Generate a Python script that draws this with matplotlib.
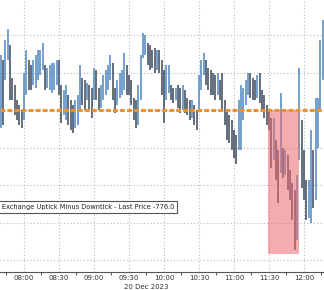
import matplotlib
matplotlib.use("Agg")
import matplotlib.pyplot as plt
from matplotlib.patches import Rectangle

# ---- data (NYSE TICK style high/low bars, 2-minute bars from 07:40) ----
start_minute = 7 * 60 + 40
bar_minutes = 2
highs = [440, 400, 560, 650, 520, 260, 200, 80, 40, 0,
         300, 480, 400, 360, 400, 440, 480, 480, 540, 360,
         340, 360, 380, 380, 400, 400, 200, 160, 200, 120,
         80, 40, 80, 120, 360, 260, 240, 220, 200, 180,
         340, 320, 180, 200, 280, 320, 360, 440, 380, 180,
         240, 300, 320, 460, 360, 280, 240, 100, 80, 200,
         440, 620, 600, 540, 520, 480, 500, 480, 480, 400,
         320, 360, 360, 200, 180, 180, 200, 180, 200, 160,
         100, 80, 80, 40, 0, 280, 400, 460, 400, 340,
         320, 300, 280, 300, 240, 300, 80, 0, -40, -80,
         -160, -200, 80, 200, 180, 240, 300, 300, 260, 240,
         280, 300, 160, 120, 40, 0, -60, -60, -240, -320,
         140, -300, -320, -360, -480, -580, -640, -520, 340, -80,
         -320, -560, -560, -160, -320, 100, 100, 560, 720]
lows = [-140, -120, 240, 400, 80, 80, -40, -80, -120, -140,
        -80, 120, 160, 160, 200, 180, 240, 280, 320, 160,
        180, 160, 140, 160, 200, 120, -100, -40, -80, -120,
        -160, -180, -140, -120, 0, 40, 0, 80, 0, -60,
        80, 80, 0, 20, 80, 120, 160, 240, 80, -20,
        40, 100, 120, 160, 120, 120, 40, -80, -140, -120,
        80, 420, 440, 360, 320, 340, 300, 320, 300, 120,
        -100, 80, 140, 80, 60, 80, 20, -20, 0, -20,
        -40, -80, -60, -120, -160, 0, 160, 280, 200, 160,
        120, 120, 80, 120, 80, 0, -120, -240, -260, -320,
        -380, -430, -320, -320, -80, 40, 120, 100, 80, 80,
        100, 60, 0, -60, -120, -160, -460, -400, -560, -740,
        -500, -540, -520, -640, -720, -880, -1120, -1040, -400, -620,
        -720, -880, -860, -900, -780, -720, -300, 0, 240]

reference_level = 0
shade_start, shade_end = "11:29", "11:56"
shade_low, shade_high = -1150, 0
tick_labels = ["08:00", "08:30", "09:00", "09:30", "10:00",
               "10:30", "11:00", "11:30", "12:00"]
date_label = "20 Dec 2023"
legend_text = "NYSE Stock Exchange Uptick Minus Downtick - Last Price -776.0"
grid_values = [600, 300, 0, -300, -600, -900, -1200]


def to_min(s):
    h, m = s.split(":")
    return int(h) * 60 + int(m)


W, H = 324, 290
fig = plt.figure(figsize=(W / 100, H / 100), dpi=100)
ax_bottom_px = 272
ax = fig.add_axes([0, (H - ax_bottom_px) / H, 1, ax_bottom_px / H])

times = [start_minute + bar_minutes * i for i in range(len(highs))]
blue, dark = "#4f86c0", "#3a4658"
prev_mid = None
for t, hi, lo in zip(times, highs, lows):
    mid = (hi + lo) / 2
    col = blue if (prev_mid is None or mid >= prev_mid) else dark
    ax.vlines(t, lo, hi, color=col, lw=1.1, zorder=3)
    prev_mid = mid

# shaded region
s0, s1 = to_min(shade_start), to_min(shade_end)
ax.add_patch(Rectangle((s0, shade_low), s1 - s0, shade_high - shade_low,
                       facecolor="#ec6a6e", alpha=0.55, edgecolor="none", zorder=4))

# reference dashed line
ax.axhline(reference_level, color="#f0922b", lw=2.2, dashes=(1.6, 0.7), zorder=5)

# grid
tick_pos = [to_min(s) for s in tick_labels]
for v in grid_values:
    ax.axhline(v, color="#b8b8b8", lw=0.8, ls=(0, (1, 2)), zorder=1)
for p in tick_pos:
    ax.axvline(p, color="#b8b8b8", lw=0.8, ls=(0, (1, 2)), zorder=1)

x0 = 480 + (0 - 24) / (35 / 30)
x1 = 480 + (W - 24) / (35 / 30)
ax.set_xlim(x0, x1)
ax.set_ylim(880 - 8 * ax_bottom_px, 880)

font_fam = ["Liberation Sans Narrow", "DejaVu Sans"]
for s in ["top", "left", "right"]:
    ax.spines[s].set_visible(False)
ax.spines["bottom"].set_color("#555555")
ax.spines["bottom"].set_linewidth(0.8)
ax.set_yticks([])
ax.set_xticks(tick_pos)
ax.set_xticklabels(tick_labels, fontsize=5.0, family=font_fam, color="#333333")
ax.set_xticks([p + 15 for p in tick_pos] + [tick_pos[0] - 15], minor=True)
ax.tick_params(axis="x", which="major", length=0, pad=2.0)
ax.tick_params(axis="x", which="minor", length=2.5, width=0.7, color="#555555")

fig.text(146 / W, (H - 287) / H, date_label, ha="center", va="center",
         fontsize=5.0, family=font_fam, color="#333333")

fig.text(174 / W, (H - 207) / H, legend_text, ha="right", va="center",
         fontsize=4.75, family=font_fam, color="#222222",
         bbox=dict(boxstyle="square,pad=0.45", facecolor="white", edgecolor="#555555", lw=0.8),
         zorder=10)

fig.savefig("out.png", dpi=100)
